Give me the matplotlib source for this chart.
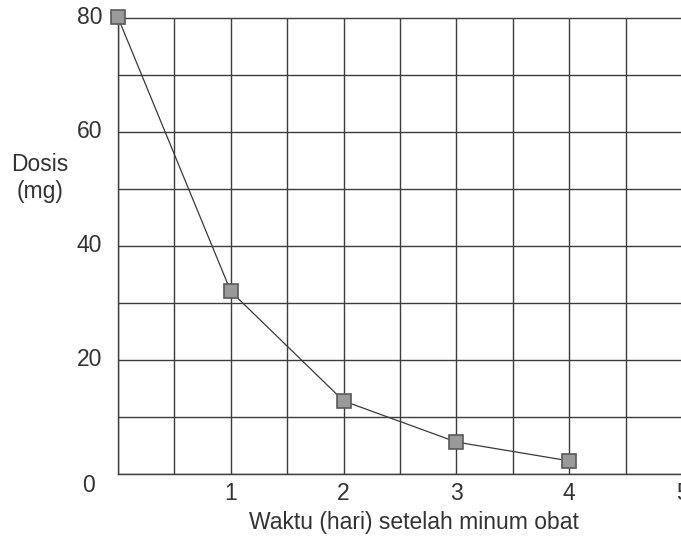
import matplotlib
matplotlib.use("Agg")
import matplotlib.pyplot as plt
from matplotlib.ticker import MultipleLocator

plt.rcParams['font.family'] = ['Liberation Sans', 'DejaVu Sans']

days = [0, 1, 2, 3, 4]
dose = [80, 32, 12.8, 5.6, 2.3]
x_ticks = [1, 2, 3, 4, 5]
y_ticks = [20, 40, 60, 80]

W, H = 681, 542
fig = plt.figure(figsize=(W / 100, H / 100), dpi=100)
ax = fig.add_axes([118 / W, 1 - 474 / H, 564 / W, 456.5 / H])

ax.set_xlim(0, 5)
ax.set_ylim(0, 80)
ax.xaxis.set_major_locator(MultipleLocator(0.5))
ax.yaxis.set_major_locator(MultipleLocator(10))
ax.grid(True, color='#3c3c3c', linewidth=1.0)
ax.tick_params(length=0, labelleft=False, labelbottom=False)
for s in ax.spines.values():
    s.set_color('#3c3c3c')
    s.set_linewidth(1.0)
ax.spines['right'].set_visible(False)

ax.plot(days, dose, color='#3a3a3a', linewidth=0.9, marker='s', markersize=10,
        markerfacecolor='#9a9a9a', markeredgecolor='#5a5a5a', markeredgewidth=1.2,
        zorder=5, clip_on=False)

tc = '#333333'
fs = 16.5
for v in x_ticks:
    ax.text(v, -3.4, str(v), ha='center', va='center', fontsize=fs, color=tc)
for v in y_ticks:
    ax.text(-0.14, v, str(v), ha='right', va='center', fontsize=fs, color=tc)
ax.text(-0.26, -2.0, '0', ha='center', va='center', fontsize=fs, color=tc)

fig.text(40 / W, 1 - 178 / H, 'Dosis\n(mg)', ha='center', va='center',
         fontsize=16.5, color=tc, linespacing=1.2)
fig.text(414 / W, 1 - 522 / H, 'Waktu (hari) setelah minum obat', ha='center',
         va='center', fontsize=16.5, color=tc)

fig.savefig('out.png', dpi=100)
